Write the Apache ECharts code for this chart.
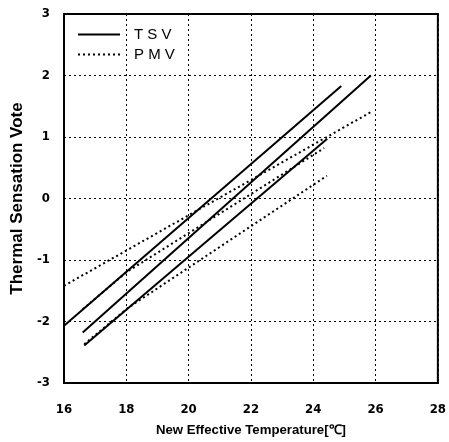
<!DOCTYPE html>
<html><head><meta charset="utf-8">
<script src="https://cdn.jsdelivr.net/npm/echarts@6/dist/echarts.min.js"></script>
<style>html,body{margin:0;padding:0;background:#fff}#c{width:449px;height:442px}</style>
</head><body><div id="c"></div>
<script>
// TSV regression lines (x = New Effective Temperature, y = vote)
const tsv1 = [[16.0, -2.07], [24.9, 1.83]];
const tsv2 = [[16.6, -2.18], [25.85, 2.0]];
const tsv3 = [[16.65, -2.39], [24.45, 0.97]];
// PMV lines
const pmv1 = [[16.0, -1.42], [25.9, 1.42]];
const pmv2 = [[16.6, -1.8], [18.0, -1.2], [24.35, 0.82]];
const pmv3 = [[16.65, -2.37], [18.05, -1.78], [24.44, 0.37]];
const xTicks = [16, 18, 20, 22, 24, 26, 28];
const yTicks = [-3, -2, -1, 0, 1, 2, 3];
const legendNames = ['T S V', 'P M V'];

const font = '"Liberation Sans", Arial, sans-serif';
const cond = '"DejaVu Sans Condensed", "Liberation Sans", Arial, sans-serif';
const solid = {color: '#000', width: 2, type: 'solid'};
const dotted = {color: '#000', width: 2, type: [2, 3]};
function mk(name, data, ls) {
  return {name: name, type: 'line', data: data, symbol: 'none', showSymbol: false,
    lineStyle: ls, itemStyle: {color: '#000'}, animation: false, z: 3};
}
const chart = echarts.init(document.getElementById('c'), null, {renderer: 'canvas'});
chart.setOption({
  animation: false,
  backgroundColor: '#fff',
  grid: {left: 64, top: 14, right: 11, bottom: 56, show: true, borderColor: '#000', borderWidth: 2, backgroundColor: 'transparent'},
  legend: {
    data: legendNames, orient: 'vertical', left: 72, top: 22, itemWidth: 42, itemHeight: 12, itemGap: 5,
    itemStyle: {opacity: 0, borderWidth: 0},
    textStyle: {fontFamily: font, fontSize: 15, color: '#000', padding: [0, 0, 0, 9]}
  },
  xAxis: {
    type: 'value', min: xTicks[0], max: xTicks[xTicks.length - 1], interval: 2,
    name: 'New Effective Temperature[℃]', nameLocation: 'middle', nameGap: 41,
    nameTextStyle: {fontFamily: font, fontSize: 13.2, fontWeight: 'bold', color: '#000'},
    axisLine: {onZero: false, lineStyle: {color: '#000', width: 2}},
    axisTick: {show: false},
    axisLabel: {margin: 20, fontFamily: cond, fontSize: 13, fontWeight: 'bold', color: '#000'},
    splitLine: {show: true, lineStyle: {color: '#000', width: 1, type: [2, 3]}}
  },
  yAxis: {
    type: 'value', min: yTicks[0], max: yTicks[yTicks.length - 1], interval: 1,
    name: 'Thermal Sensation Vote', nameLocation: 'middle', nameGap: 35,
    nameTextStyle: {fontFamily: font, fontSize: 17, fontWeight: 'bold', color: '#000'},
    axisLine: {onZero: false, lineStyle: {color: '#000', width: 2}},
    axisTick: {show: false},
    axisLabel: {margin: 14, fontFamily: cond, fontSize: 13, fontWeight: 'bold', color: '#000'},
    splitLine: {show: true, lineStyle: {color: '#000', width: 1, type: [2, 3]}}
  },
  series: [
    mk(legendNames[0], tsv1, solid),
    mk(legendNames[0], tsv2, solid),
    mk(legendNames[0], tsv3, solid),
    mk(legendNames[1], pmv1, dotted),
    mk(legendNames[1], pmv2, dotted),
    mk(legendNames[1], pmv3, dotted)
  ]
});
</script></body></html>
